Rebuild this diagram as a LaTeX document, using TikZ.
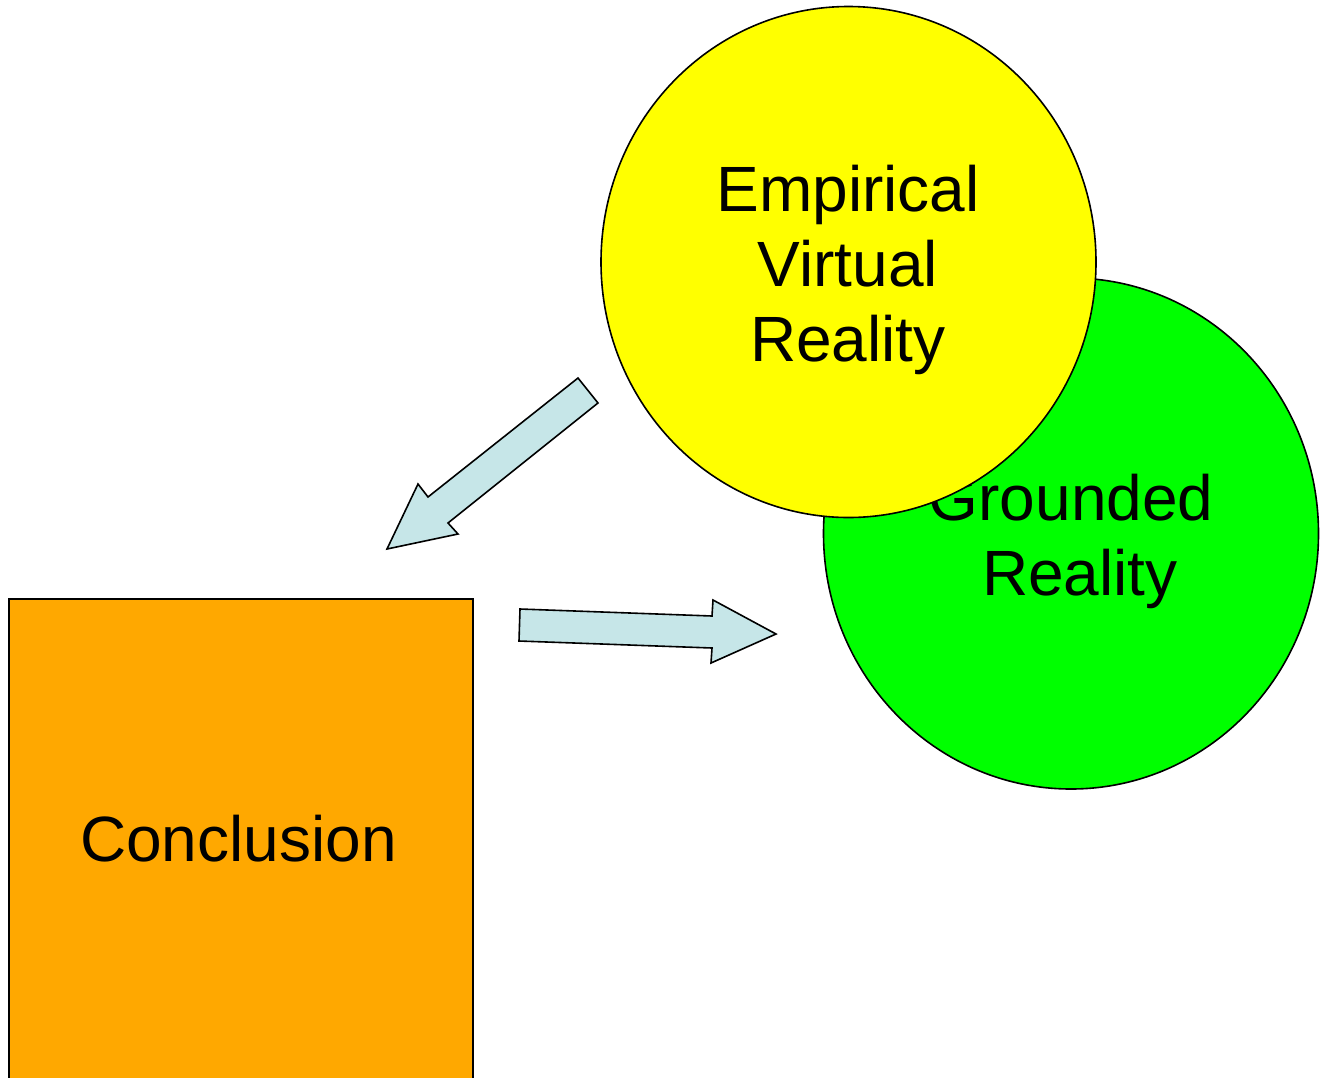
\documentclass[tikz,border=0pt]{standalone}
\usepackage{fontspec}
\setmainfont{Liberation Sans}
\usetikzlibrary{shapes.geometric}
\definecolor{yel}{RGB}{255,255,0}
\definecolor{grn}{RGB}{0,255,0}
\definecolor{org}{RGB}{255,168,0}
\definecolor{arw}{RGB}{198,230,232}
\begin{document}
\begin{tikzpicture}[x=1pt,y=-1pt,
  blob/.style={ellipse,draw=black,line width=1.6pt,minimum width=495pt,minimum height=511pt,inner sep=0pt},
  lbl/.style={font=\fontsize{64}{75}\selectfont,align=center,inner sep=0pt},
  blockarrow/.style={draw=black,fill=arw,line width=1.6pt,line join=miter}]
\useasboundingbox (0,0) rectangle (1325,1077);
\clip (0,0) rectangle (1325,1077);
% circles
\node[blob,fill=grn] (gr) at (1071,533.5) {};
\node[lbl] (grt) at (1080,541.5) {Grounded\hbox to 0.278em{}\\Reality};
\node[blob,fill=yel] (em) at (848.5,262) {};
\node[lbl] (emt) at (848,269.5) {Empirical\\Virtual\\Reality};
% rectangle
\node[draw=black,line width=2pt,fill=org,anchor=north west,minimum width=464pt,minimum height=520pt,inner sep=0pt] (co) at (7.5,597.5) {};
\node[lbl] (cot) at (238.5,839) {Conclusion};
% block arrows
\draw[blockarrow] (578,378) -- (598,403) -- (448,523) -- (458,534) -- (387,549) -- (418,484) -- (428,497) -- cycle;
\draw[blockarrow] (520,609) -- (712,616) -- (713,600) -- (776,634) -- (711,663) -- (712,648) -- (519,641) -- cycle;
\end{tikzpicture}
\end{document}
